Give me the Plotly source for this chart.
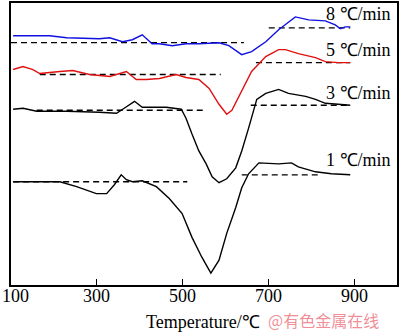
import plotly.graph_objects as go

# Temperature (°C) and DTA signal (arbitrary units) for each heating rate
t8 = [105, 190, 230, 306, 330, 360, 383, 406, 429, 446, 476, 508, 538, 585, 608, 638, 661, 694, 724, 763, 794, 833, 856, 868, 879, 891]
s8 = [251, 251, 249, 248, 249, 245, 247, 252, 243, 243, 241, 243, 243, 244, 241, 232, 235, 245, 257, 270, 267, 266, 262, 258, 260, 260]

t5 = [105, 128, 151, 167, 214, 244, 283, 330, 369, 392, 415, 446, 485, 508, 538, 562, 585, 603, 615, 638, 661, 694, 724, 740, 770, 810, 833, 863, 891]
s5 = [217, 220, 217, 213, 215, 216, 212, 210, 215, 207, 207, 208, 212, 209, 207, 198, 182, 172, 176, 195, 215, 230, 237, 237, 233, 229, 225, 224, 224]

t3 = [105, 128, 160, 230, 306, 346, 364, 388, 406, 462, 497, 508, 522, 538, 555, 569, 585, 603, 624, 638, 654, 666, 673, 694, 708, 724, 747, 787, 810, 833, 863, 891]
s3 = [177, 178, 175, 175, 174, 173, 178, 185, 179, 179, 177, 168, 152, 135, 122, 109, 103, 107, 118, 135, 158, 175, 187, 193, 195, 197, 193, 190, 187, 183, 182, 181]

t1 = [105, 167, 214, 253, 299, 323, 341, 357, 369, 383, 406, 439, 469, 499, 522, 545, 566, 585, 603, 624, 638, 654, 678, 724, 754, 770, 810, 847, 891]
s1 = [104, 104, 104, 99, 92, 92, 101, 111, 106, 104, 105, 99, 87, 72, 48, 28, 12, 25, 52, 78, 98, 112, 123, 122, 123, 119, 114, 112, 111]

# Baselines (dashed): (start T, end T, level)
base8 = [(100, 643, 244), (701, 891, 259)]
base5 = [(167, 589, 212), (671, 891, 224)]
base3 = [(160, 550, 176), (659, 891, 181)]
base1 = [(105, 511, 104), (638, 817, 111)]

labels = ["8 ℃/min", "5 ℃/min", "3 ℃/min", "1 ℃/min"]
label_y = [273, 237, 193, 126]
tick_vals = [100, 300, 500, 700, 900]

fig = go.Figure()
series = [(t8, s8, "#1010e0", base8), (t5, s5, "#e01010", base5),
          (t3, s3, "black", base3), (t1, s1, "black", base1)]
for t, s, c, bases in series:
    for x0, x1, lv in bases:
        fig.add_trace(go.Scatter(x=[x0, x1], y=[lv, lv], mode="lines",
                                 line=dict(color="black", width=1.3, dash="6px,4px"),
                                 showlegend=False, hoverinfo="skip"))
    fig.add_trace(go.Scatter(x=t, y=s, mode="lines",
                             line=dict(color=c, width=1.4), showlegend=False))

for lab, ly in zip(labels, label_y):
    fig.add_annotation(x=990, y=ly, xref="x", yref="y", text=lab, showarrow=False,
                       xanchor="right", yanchor="middle",
                       font=dict(family="Liberation Serif", size=18, color="black"))

# tick labels as annotations (the first one sits at the figure's left edge)
for i, tv in enumerate(tick_vals):
    if i == 0:
        fig.add_annotation(x=-11 / 388, y=-0.04, xref="paper", yref="paper", text=str(tv),
                           showarrow=False, xanchor="left", yanchor="middle",
                           font=dict(family="Liberation Serif", size=18, color="black"))
    else:
        fig.add_annotation(x=tv, y=-0.04, xref="x", yref="paper", text=str(tv),
                           showarrow=False, xanchor="center", yanchor="middle",
                           font=dict(family="Liberation Serif", size=18, color="black"))

fig.add_annotation(x=0.497, y=-0.13, xref="paper", yref="paper", text="Temperature/℃",
                   showarrow=False, xanchor="center", yanchor="middle",
                   font=dict(family="Liberation Serif", size=18, color="black"))
fig.add_annotation(x=0.66, y=-0.125, xref="paper", yref="paper", text="@有色金属在线",
                   showarrow=False, xanchor="left", yanchor="middle",
                   font=dict(family="Noto Sans CJK SC", size=16, color="rgba(238,120,132,0.85)"))

fig.update_layout(
    width=400, height=332,
    margin=dict(l=11, r=1, t=1, b=47),
    paper_bgcolor="white", plot_bgcolor="white",
    xaxis=dict(range=[100, 1000], tickvals=tick_vals, ticks="inside", ticklen=6,
               tickcolor="black", showticklabels=False, showline=True, linecolor="black",
               linewidth=1.5, mirror=True, showgrid=False, zeroline=False),
    yaxis=dict(range=[0, 284], showticklabels=False, ticks="", showline=True,
               linecolor="black", linewidth=1.5, mirror=True, showgrid=False,
               zeroline=False),
)
fig.write_html("out.html")
